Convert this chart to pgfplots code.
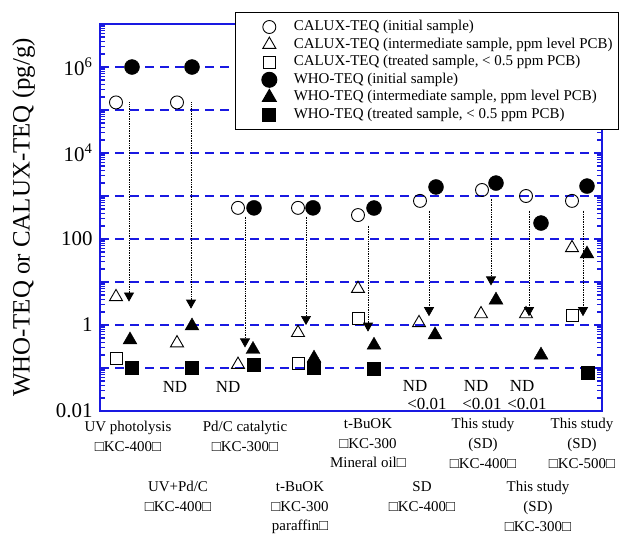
\documentclass[border=0pt]{standalone}
\usepackage{fontspec}
\setmainfont{Liberation Serif}
\usepackage{pgfplots}
\pgfplotsset{compat=1.18}
\usetikzlibrary{arrows.meta}
\definecolor{axblue}{RGB}{25,25,225}
\begin{document}
\begin{tikzpicture}
\begin{axis}[
  at={(100bp,-411bp)}, anchor=south west,
  scale only axis, width=502bp, height=387bp,
  xmin=0, xmax=502, ymode=log, ymin=0.01, ymax=1e7,
  xtick=\empty,
  ytick={1e-2,1e-1,1,10,100,1000,1e4,1e5,1e6,1e7},
  yticklabels={0.01,,1,,100,,10\textsuperscript{4},,10\textsuperscript{6},},
  minor ytick={0.02,0.03,0.04,0.05,0.06,0.07,0.08,0.09,
    0.2,0.3,0.4,0.5,0.6,0.7,0.8,0.9,
    2,3,4,5,6,7,8,9,
    20,30,40,50,60,70,80,90,
    200,300,400,500,600,700,800,900,
    2000,3000,4000,5000,6000,7000,8000,9000,
    2e4,3e4,4e4,5e4,6e4,7e4,8e4,9e4,
    2e5,3e5,4e5,5e5,6e5,7e5,8e5,9e5,
    2e6,3e6,4e6,5e6,6e6,7e6,8e6,9e6},
  axis line style={axblue, line width=1.8bp},
  tick style={axblue, line width=1.2bp},
  major tick length=8bp, minor tick length=5bp,
  ymajorgrids,
  major grid style={axblue, line width=1.3bp, dash pattern=on 9bp off 6bp},
  yticklabel style={font=\fontsize{21}{21}\selectfont, xshift=-4bp},
  ylabel={WHO-TEQ or CALUX-TEQ (pg/g)},
  ylabel style={font=\fontsize{25}{25}\selectfont, at={(axis description cs:-0.152,0.5)}, anchor=center},
  clip=false,
  legend style={at={(axis description cs:1.034,1.031)}, anchor=north east,
    draw=black, line width=1bp, fill=white,
    font=\fontsize{15}{17}\selectfont,
    inner xsep=5bp, inner ysep=6bp,
    nodes={inner sep=1bp, text height=11bp, text depth=4bp},
    row sep=0.6bp},
  legend cell align=left,
  legend image code/.code={\path (0bp,0bp) (51bp,0bp);
    \draw[#1] plot coordinates {(28bp,0bp)};},
]
% CALUX initial
\addplot[only marks, mark=o, mark size=6.5bp, mark options={black, line width=0.9bp, fill=white}]
  coordinates {(16,1.5e5) (77,1.5e5) (138,530) (198,530) (258,360) (320,770) (382,1380) (426,1000) (472,770)};
\addlegendentry{CALUX-TEQ (initial sample)}
% CALUX intermediate
\addplot[only marks, mark=triangle, mark size=7.5bp, mark options={black, line width=0.9bp, fill=white}]
  coordinates {(16,4.5) (77,0.38) (138,0.12) (198,0.66) (258,7.0) (319,1.12) (381,1.8) (426,1.8) (472,62)};
\addlegendentry{CALUX-TEQ (intermediate sample, ppm level PCB)}
% CALUX treated
\addplot[only marks, mark=square, mark size=6bp, mark options={black, line width=0.9bp, fill=white}]
  coordinates {(16,0.17) (198,0.13) (258,1.4) (472,1.7)};
\addlegendentry{CALUX-TEQ (treated sample, < 0.5 ppm PCB)}
% WHO initial
\addplot[only marks, mark=*, mark size=7.5bp, mark options={black, fill=black}]
  coordinates {(32,1e6) (92,1e6) (154,530) (213,530) (274,525) (336,1620) (396,2000) (441,235) (487,1700)};
\addlegendentry{WHO-TEQ (initial sample)}
% WHO intermediate
\addplot[only marks, mark=triangle*, mark size=8bp, mark options={black, fill=black}]
  coordinates {(30,0.45) (92,0.95) (153,0.27) (214,0.17) (274,0.34) (335,0.59) (396,3.8) (441,0.2) (487,45)};
\addlegendentry{WHO-TEQ (intermediate sample, ppm level PCB)}
% WHO treated
\addplot[only marks, mark=square*, mark size=6.5bp, mark options={black, fill=black}]
  coordinates {(32,0.1) (92,0.1) (154,0.12) (214,0.1) (274,0.095) (488,0.076)};
\addlegendentry{WHO-TEQ (treated sample, < 0.5 ppm PCB)}
% arrows
\pgfplotsset{arr/.style={forget plot, black, line width=0.7bp, densely dotted, -{Triangle[width=10bp,length=9bp]}}}
\addplot[arr] coordinates {(29,1.5e5) (29,3.5)};
\addplot[arr] coordinates {(91,1.5e5) (91,2.4)};
\addplot[arr] coordinates {(145,333) (145,0.30)};
\addplot[arr] coordinates {(206,333) (206,1.0)};
\addplot[arr] coordinates {(268,205) (268,0.7)};
\addplot[arr] coordinates {(329,460) (329,1.6)};
\addplot[arr] coordinates {(391,870) (391,8.3)};
\addplot[arr] coordinates {(429,460) (429,1.6)};
\addplot[arr] coordinates {(483,460) (483,1.6)};
\end{axis}
% ND labels
\begin{scope}[every node/.style={font=\fontsize{17}{17}\selectfont, inner sep=0pt}]
\node at (175bp,-387bp) {ND};
\node at (228bp,-387bp) {ND};
\node at (415bp,-386bp) {ND};
\node at (427bp,-404bp) {<0.01};
\node at (476bp,-386bp) {ND};
\node at (482bp,-404bp) {<0.01};
\node at (522bp,-386bp) {ND};
\node at (527bp,-404bp) {<0.01};
\end{scope}
% category labels
\begin{scope}[every node/.style={font=\fontsize{15}{20}\selectfont, align=center, anchor=north, inner sep=0pt}]
\node at (128bp,-421bp) {UV photolysis\\□KC-400□};
\node at (245bp,-421bp) {Pd/C catalytic\\□KC-300□};
\node at (368bp,-418bp) {t-BuOK\\□KC-300\\Mineral oil□};
\node at (483bp,-418bp) {This study\\(SD)\\□KC-400□};
\node at (582bp,-418bp) {This study\\(SD)\\□KC-500□};
\node at (178bp,-481bp) {UV+Pd/C\\□KC-400□};
\node at (300bp,-481bp) {t-BuOK\\□KC-300\\paraffin□};
\node at (422bp,-481bp) {SD\\□KC-400□};
\node at (538bp,-481bp) {This study\\(SD)\\□KC-300□};
\end{scope}
\pgfresetboundingbox
\path[use as bounding box] (0bp,0bp) rectangle (630bp,-534bp);
\end{tikzpicture}
\end{document}
